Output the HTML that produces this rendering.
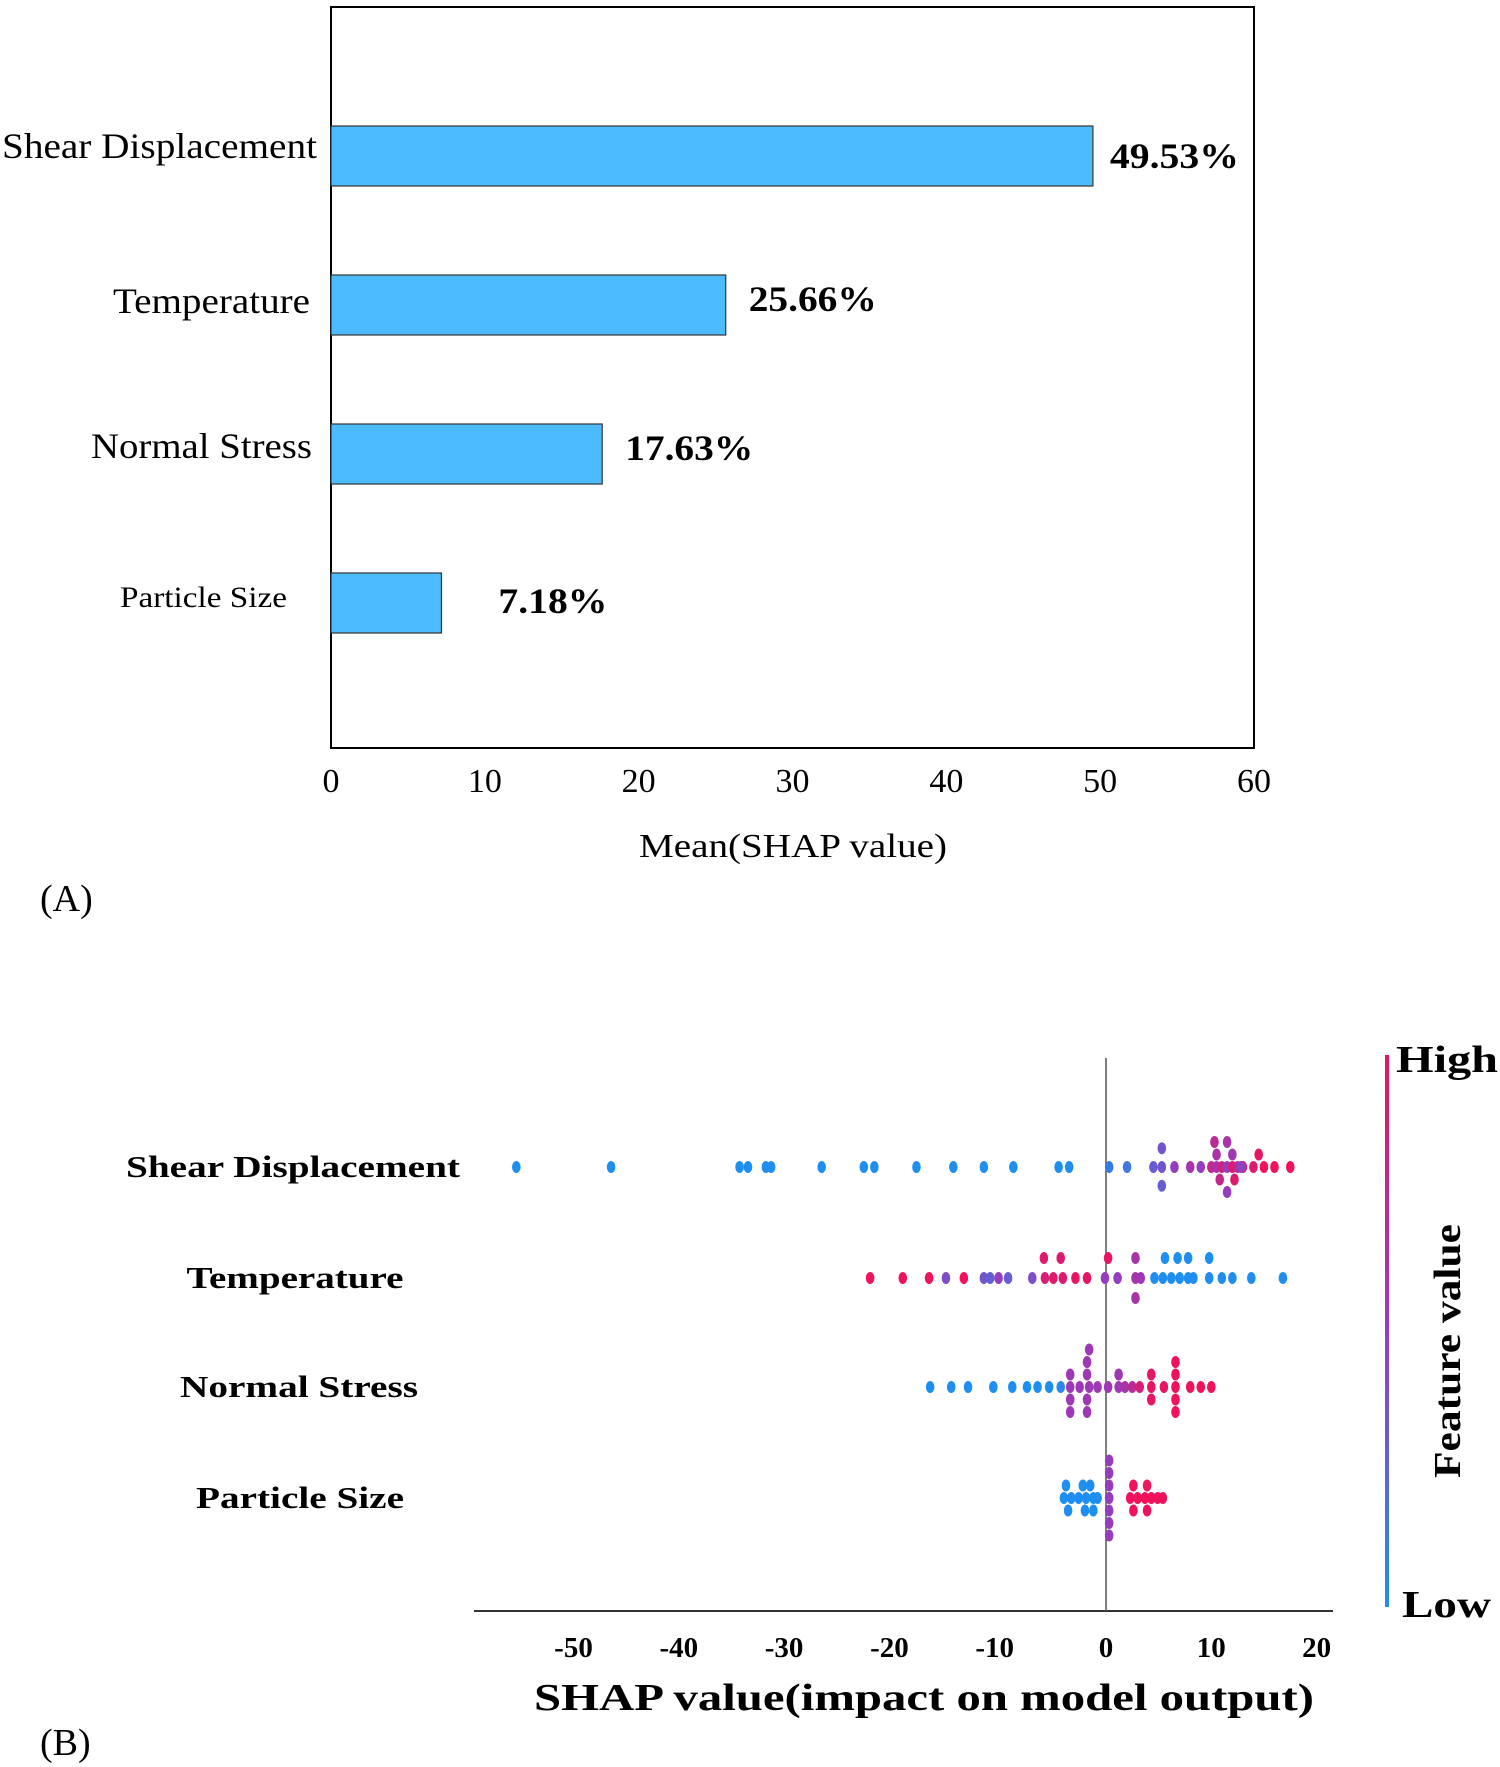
<!DOCTYPE html>
<html><head><meta charset="utf-8"><style>
html,body{margin:0;padding:0;background:#fff}
svg{display:block}
text{font-family:"Liberation Serif",serif;fill:#000}
</style></head><body>
<svg id="fig" width="1500" height="1767" viewBox="0 0 1500 1767" xmlns="http://www.w3.org/2000/svg">
<defs><linearGradient id="cb" x1="0" y1="1" x2="0" y2="0"><stop offset="0" stop-color="#1e8ff0"/><stop offset="0.5" stop-color="#9a3cc0"/><stop offset="1" stop-color="#e8145a"/></linearGradient></defs>
<g id="panelA"></g>
<g id="panelB"></g>
</svg>
<script>
// ---- Panel A data ----
const barCategories = ["Shear Displacement","Temperature","Normal Stress","Particle Size"];
const barValues = [49.53, 25.66, 17.63, 7.18];
const barLabels = ["49.53%","25.66%","17.63%","7.18%"];
const xTicksA = [0,10,20,30,40,50,60];

// ---- Panel B data ----
const features = ["Shear Displacement","Temperature","Normal Stress","Particle Size"];
const xTicksB = [-50,-40,-30,-20,-10,0,10,20];
const shearShap = [-56,-47,-34.8,-34,-32.3,-31.8,-27,-23,-22,-18,-14.5,-11.6,-8.8,-4.5,-3.5,0.3,2,4.5,5.3,5.3,5.3,6.5,8,9,10,10.5,11,11.5,12,12.5,13,14,15,16,17.5,10.3,11.5,12,14.5,10.8,12.2,11.5,10.5,12.8];
const shearFeat = [0,0,0,0,0,0,0,0,0,0,0,0,0,0,0,0.1,0.15,0.3,0.35,0.35,0.3,0.5,0.6,0.5,0.75,0.6,0.8,0.5,0.9,0.7,0.85,0.9,1,1,1,0.7,0.6,0.55,0.95,0.75,0.9,0.5,0.6,0.45];
const shearLane = [0,0,0,0,0,0,0,0,0,0,0,0,0,0,0,0,0,0,0,-1.5,1.5,0,0,0,0,0,0,0,0,0,0,0,0,0,0,-2,-2,-1,-1,1,1,2,-1,0];
const tempShap = [-22.4,-19.3,-16.8,-15.2,-13.5,-11.6,-11,-10.2,-9.3,-7,-5.8,-5,-4.1,-2.9,-1.8,-0.1,1.1,2.8,3.3,4.6,5.4,6.2,7,7.8,8.3,9.8,11,12,13.8,16.8,-5.9,-4.3,0.2,2.8,5.6,6.8,7.8,9.8,2.8];
const tempFeat = [1,1,1,0.4,1,0.35,0.3,0.5,0.3,0.4,0.85,0.9,0.9,0.95,0.95,0.5,0.5,0.6,0.55,0,0,0,0,0,0,0,0,0,0,0,0.9,0.9,0.95,0.6,0,0,0,0,0.6];
const tempLane = [0,0,0,0,0,0,0,0,0,0,0,0,0,0,0,0,0,0,0,0,0,0,0,0,0,0,0,0,0,0,-1.6,-1.6,-1.6,-1.6,-1.6,-1.6,-1.6,-1.6,1.6];
const normShap = [-16.7,-14.7,-13.1,-10.7,-8.9,-7.5,-6.5,-5.4,-4.3,-3.4,-2.5,-1.6,-0.8,0.2,1.2,1.8,2.5,3.2,4.3,5.5,6.6,8,9,10,-3.4,-1.8,-3.4,-1.8,-1.8,-1.6,-3.4,-1.8,4.3,4.3,6.6,6.6,6.6,6.6,1.2];
const normFeat = [0,0,0,0,0,0,0,0,0.05,0.55,0.55,0.55,0.55,0.55,0.55,0.6,0.7,0.85,0.95,0.95,1,1,1,1,0.55,0.55,0.55,0.55,0.55,0.55,0.55,0.55,0.95,0.95,1,1,1,1,0.55];
const normLane = [0,0,0,0,0,0,0,0,0,0,0,0,0,0,0,0,0,0,0,0,0,0,0,0,-1,-1,1,1,-2,-3,2,2,-1,1,-1,1,-2,2,-1];
const partShap = [-4,-3.3,-2.6,-1.9,-1.2,-0.8,-3.8,-2.2,-1.5,-3.6,-2,-1.2,0.3,0.3,0.3,0.3,0.3,0.3,0.3,0.3,2.3,3,3.7,4.3,4.9,5.4,2.6,3.9,2.6,3.9];
const partFeat = [0,0,0,0,0,0,0,0,0,0,0,0,0.5,0.5,0.5,0.5,0.5,0.5,0.5,0.5,1,1,1,1,1,1,1,1,1,1];
const partLane = [0,0,0,0,0,0,-1,-1,-1,1,1,1,0,-1,1,-2,2,-3,3,0,0,0,0,0,0,0,-1,-1,1,1];

const NS="http://www.w3.org/2000/svg";
function mk(tag, attrs, parent, txt){const e=document.createElementNS(NS,tag);for(const k in attrs)e.setAttribute(k,attrs[k]);if(txt!==undefined)e.textContent=txt;parent.appendChild(e);return e;}

// ---- Panel A ----
const A=document.getElementById('panelA');
const ax0=331, ax1=1254, ay0=7, ay1=748;
const xA=v=>ax0+(v-0)/(60-0)*(ax1-ax0);
const barTop=[126,275,424,573], barH=60;
const labelRightA=[317,310,312,287], labelLenA=[315,197,221,167], labelSizeA=[36,36,36,30];
const labelDyA=[1,-2,-6,-6], valDyA=[0,-6,-6,-2], valDxA=[17,23,23,57];
const valLenA=[129,128,128,109];
let fr=mk('rect',{x:ax0,y:ay0,width:ax1-ax0,height:ay1-ay0,fill:'none',stroke:'#000','stroke-width':2},A);


barValues.forEach((v,i)=>{
  let r=mk('rect',{x:ax0,y:barTop[i],width:xA(v)-ax0,height:barH,fill:'#4dbbff',stroke:'#333','stroke-width':1.2},A);
  
  
  let cy=barTop[i]+barH/2;
  let t=mk('text',{x:labelRightA[i],y:cy+10-(i==0?9:0)+labelDyA[i],'text-anchor':'end','font-size':labelSizeA[i],textLength:labelLenA[i],lengthAdjust:'spacingAndGlyphs'},A,barCategories[i]);
  
  
  let vl=mk('text',{x:xA(v)+valDxA[i],y:cy+12+valDyA[i],'font-size':36,'font-weight':'bold',textLength:valLenA[i],lengthAdjust:'spacingAndGlyphs'},A,barLabels[i]);
  
  
});
xTicksA.forEach(t=>{
  let e=mk('text',{x:xA(t),y:792,'text-anchor':'middle','font-size':34},A,String(t));
  
  
});
let tA=mk('text',{x:793,y:857,'text-anchor':'middle','font-size':34,textLength:308,lengthAdjust:'spacingAndGlyphs'},A,'Mean(SHAP value)');


let pA=mk('text',{x:40,y:911,'font-size':38},A,'(A)');



// ---- Panel B ----
const B=document.getElementById('panelB');
const zeroX=1106, unit=10.53;
const xB=v=>zeroX+v*unit;
const rowY=[1167,1278,1387,1498];
const laneStep=12.5;
function col(f){
  const s=[[30,143,240],[150,60,190],[240,18,90]];
  let a,b,t;
  if(f<=0.5){a=s[0];b=s[1];t=f/0.5;}else{a=s[1];b=s[2];t=(f-0.5)/0.5;}
  return 'rgb('+a.map((c,i)=>Math.round(c+(b[i]-c)*t)).join(',')+')';
}
let axl=mk('line',{x1:474,y1:1611,x2:1333,y2:1611,stroke:'#333','stroke-width':2},B);


let zl=mk('line',{x1:xB(0),y1:1058,x2:xB(0),y2:1611,stroke:'#555','stroke-width':1.5},B);


const series=[[shearShap,shearFeat,shearLane],[tempShap,tempFeat,tempLane],[normShap,normFeat,normLane],[partShap,partFeat,partLane]];
const labelCxB=[293,295,299,300], labelLenB=[334,217,238,208];
series.forEach((s,i)=>{
  let g=mk('g',{},B);
  
  
  s[0].forEach((v,j)=>{
    let d=mk('ellipse',{cx:xB(v),cy:rowY[i]+s[2][j]*laneStep,rx:4.3,ry:6,fill:col(s[1][j])},g);
    
    
  });
  let t=mk('text',{x:labelCxB[i],y:rowY[i]+10,'text-anchor':'middle','font-size':31,'font-weight':'bold',textLength:labelLenB[i],lengthAdjust:'spacingAndGlyphs'},B,features[i]);
  
  
});
xTicksB.forEach(t=>{
  let e=mk('text',{x:xB(t)-(t<0?6:0),y:1657,'text-anchor':'middle','font-size':29,'font-weight':'bold'},B,String(t));
  
  
});
let tB=mk('text',{x:924,y:1710,'text-anchor':'middle','font-size':38,'font-weight':'bold',textLength:780,lengthAdjust:'spacingAndGlyphs'},B,'SHAP value(impact on model output)');


let pB=mk('text',{x:40,y:1755,'font-size':38},B,'(B)');


let cb=mk('rect',{x:1385,y:1055,width:4,height:552,fill:'url(#cb)'},B);


let hi=mk('text',{x:1396,y:1072,'font-size':38,'font-weight':'bold',textLength:102,lengthAdjust:'spacingAndGlyphs'},B,'High');


let lo=mk('text',{x:1402,y:1617,'font-size':38,'font-weight':'bold',textLength:89,lengthAdjust:'spacingAndGlyphs'},B,'Low');


let fv=mk('text',{x:0,y:0,'text-anchor':'middle','font-size':38,'font-weight':'bold',textLength:254,lengthAdjust:'spacingAndGlyphs',transform:'translate(1460,1351) rotate(-90)'},B,'Feature value');


</script>
</body></html>
